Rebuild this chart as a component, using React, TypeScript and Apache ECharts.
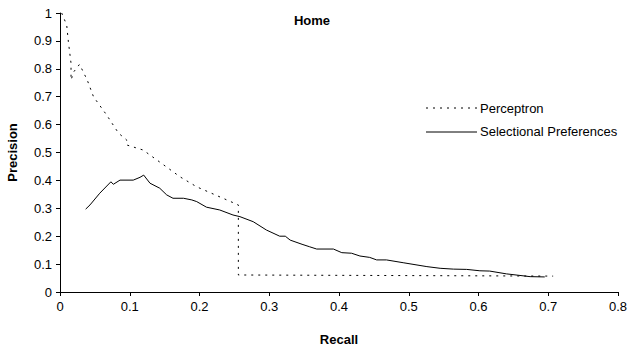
import React, { useEffect, useRef } from "react";
import * as echarts from "echarts";

const perceptronRecall = [0.0024, 0.0096, 0.012, 0.0158, 0.0158, 0.02, 0.028, 0.039, 0.048, 0.067, 0.084, 0.0956, 0.0956, 0.119, 0.139, 0.172, 0.196, 0.2557, 0.2557, 0.707];
const perceptronPrecision = [1.0, 0.957, 0.897, 0.82, 0.76, 0.79, 0.816, 0.76, 0.70, 0.634, 0.569, 0.545, 0.527, 0.509, 0.473, 0.413, 0.377, 0.312, 0.061, 0.057];

const selRecall = [0.0368, 0.043, 0.057, 0.073, 0.0765, 0.086, 0.105, 0.1147, 0.12, 0.129, 0.143, 0.153, 0.162, 0.177, 0.189, 0.196, 0.21, 0.229, 0.248, 0.258, 0.277, 0.296, 0.315, 0.323, 0.33, 0.347, 0.358, 0.368, 0.392, 0.404, 0.418, 0.43, 0.444, 0.454, 0.468, 0.492, 0.526, 0.545, 0.564, 0.583, 0.602, 0.616, 0.64, 0.674, 0.695];
const selPrecision = [0.297, 0.312, 0.354, 0.395, 0.386, 0.401, 0.401, 0.411, 0.419, 0.39, 0.372, 0.348, 0.336, 0.336, 0.33, 0.324, 0.304, 0.294, 0.276, 0.27, 0.252, 0.222, 0.2, 0.2, 0.186, 0.171, 0.162, 0.154, 0.154, 0.141, 0.139, 0.129, 0.124, 0.115, 0.115, 0.105, 0.091, 0.085, 0.082, 0.081, 0.076, 0.075, 0.065, 0.055, 0.054];

const zip = (xs: number[], ys: number[]) => xs.map((x, i) => [x, ys[i]]);

export default function App() {
  const ref = useRef<HTMLDivElement>(null);
  useEffect(() => {
    if (!ref.current) return;
    const chart = echarts.init(ref.current, undefined, { renderer: "svg" });
    const font = "'Liberation Sans', Arial, sans-serif";
    const dotted = [2, 5];
    chart.setOption({
      animation: false,
      textStyle: { fontFamily: font },
      title: {
        text: "Home",
        left: 307,
        top: 9,
        textAlign: "center",
        textStyle: { fontSize: 13, fontWeight: "bold", color: "#000", fontFamily: font },
      },
      legend: {
        orient: "vertical",
        left: 419,
        top: 96,
        itemWidth: 51,
        itemHeight: 14,
        itemGap: 10,
        textStyle: { fontSize: 13, color: "#000", fontFamily: font },
        data: [
          { name: "Perceptron", icon: "none" },
          { name: "Selectional Preferences", icon: "none" },
        ],
      },
      graphic: [
        {
          type: "line",
          shape: { x1: 426, y1: 108, x2: 477, y2: 108 },
          style: { stroke: "#000", lineWidth: 1, lineDash: dotted },
        },
        {
          type: "line",
          shape: { x1: 426, y1: 132, x2: 477, y2: 132 },
          style: { stroke: "#000", lineWidth: 1 },
        },
      ],
      grid: { left: 60, right: 11, top: 13, bottom: 55, outerBoundsMode: "none", containLabel: false },
      xAxis: {
        type: "value",
        min: 0,
        max: 0.8,
        interval: 0.1,
        name: "Recall",
        nameLocation: "middle",
        nameGap: 41,
        nameTextStyle: { fontSize: 13, fontWeight: "bold", color: "#000" },
        splitLine: { show: false },
        axisLine: { lineStyle: { color: "#000" } },
        axisTick: { length: 4, lineStyle: { color: "#000" } },
        axisLabel: { fontSize: 13, color: "#000", margin: 8 },
      },
      yAxis: {
        type: "value",
        min: 0,
        max: 1,
        interval: 0.1,
        name: "Precision",
        nameLocation: "middle",
        nameGap: 41,
        nameTextStyle: { fontSize: 13, fontWeight: "bold", color: "#000" },
        splitLine: { show: false },
        axisLine: { show: true, lineStyle: { color: "#000" } },
        axisTick: { show: true, length: 4, lineStyle: { color: "#000" } },
        axisLabel: { fontSize: 13, color: "#000", margin: 8 },
      },
      series: [
        {
          name: "Perceptron",
          type: "line",
          data: zip(perceptronRecall, perceptronPrecision),
          symbol: "none",
          lineStyle: { color: "#000", width: 1, type: dotted },
          itemStyle: { color: "#000" },
        },
        {
          name: "Selectional Preferences",
          type: "line",
          data: zip(selRecall, selPrecision),
          symbol: "none",
          lineStyle: { color: "#000", width: 1 },
          itemStyle: { color: "#000" },
        },
      ],
    });
    return () => chart.dispose();
  }, []);
  return <div ref={ref} style={{ width: 629, height: 347, position: "absolute", left: 0, top: 0 }} />;
}
